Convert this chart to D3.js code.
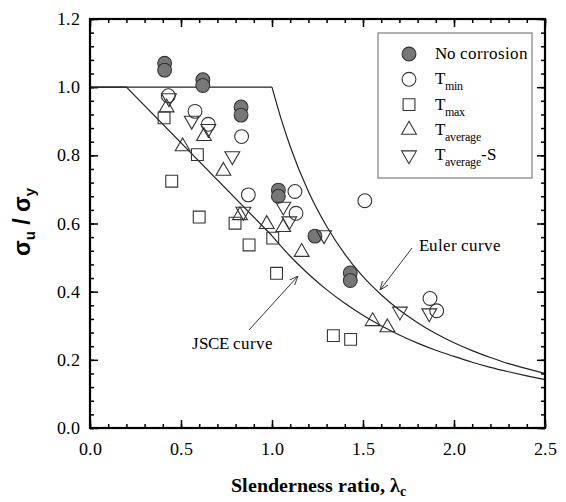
<!DOCTYPE html>
<html><head><meta charset="utf-8">
<script src="https://cdn.jsdelivr.net/npm/d3@7"></script>
<style>
@font-face { font-family: "RefSerif"; src: local("Liberation Serif"), local("LiberationSerif"), local("Liberation Serif Regular"), local("LiberationSerif-Regular"); font-weight: normal; }
@font-face { font-family: "RefSerif"; src: local("Liberation Serif Bold"), local("LiberationSerif-Bold"); font-weight: bold; }
</style>
</head>
<body style="margin:0">
<script>
// ---- data ----
var noCorrosion = [[0.41,1.07],[0.41,1.05],[0.62,1.022],[0.62,1.005],[0.83,0.942],[0.83,0.918],
                   [1.035,0.698],[1.035,0.68],[1.236,0.563],[1.43,0.455],[1.43,0.433]];
var tMin = [[0.43,0.975],[0.577,0.929],[0.65,0.891],[0.833,0.855],[0.87,0.684],[1.126,0.694],
            [1.132,0.63],[1.51,0.667],[1.868,0.38],[1.905,0.344]];
var tMax = [[0.407,0.91],[0.449,0.724],[0.59,0.802],[0.60,0.619],[0.797,0.601],[0.874,0.537],
            [1.004,0.557],[1.025,0.454],[1.337,0.271],[1.432,0.26]];
var tAverage = [[0.421,0.94],[0.509,0.826],[0.626,0.856],[0.733,0.754],[0.824,0.624],[0.971,0.598],
                [1.062,0.589],[1.163,0.516],[1.553,0.313],[1.634,0.295]];
var tAverageS = [[0.434,0.968],[0.559,0.902],[0.65,0.878],[0.782,0.798],[0.843,0.635],[1.062,0.65],
                 [1.095,0.607],[1.286,0.566],[1.703,0.342],[1.864,0.337]];

// design curves, values
var jsceStraight = [[0.0,1.0],[0.2,1.0],[1.0,0.564]];
var jsceCurve = [[1.0,0.564],[1.1,0.504],[1.2,0.452],[1.3,0.406],[1.4,0.366],[1.5,0.331],[1.6,0.300],
                 [1.7,0.273],[1.8,0.249],[1.9,0.228],[2.0,0.210],[2.1,0.193],[2.2,0.178],[2.3,0.165],
                 [2.4,0.153],[2.5,0.142]];
var eulerStraight = [[0.0,1.0],[1.0,1.0]];
var eulerCurve = [[1.0,1.0],[1.05,0.907],[1.1,0.826],[1.2,0.694],[1.3,0.592],[1.4,0.510],[1.5,0.444],
                  [1.6,0.391],[1.7,0.346],[1.8,0.309],[1.9,0.277],[2.0,0.250],[2.1,0.227],[2.2,0.207],
                  [2.3,0.189],[2.4,0.174],[2.5,0.160]];

var xTicks = [0.0, 0.5, 1.0, 1.5, 2.0, 2.5];
var yTicks = [0.0, 0.2, 0.4, 0.6, 0.8, 1.0, 1.2];
var legendLabels = [["No corrosion", ""], ["T", "min"], ["T", "max"], ["T", "average"], ["T", "average", "-S"]];

var SERIF = "RefSerif";
var SANS = "'Liberation Sans'";

// ---- layout ----
var width = 566, height = 502;
var margin = { left: 90, top: 19, right: 21, bottom: 74 };
var w = width - margin.left - margin.right,
    h = height - margin.top - margin.bottom;

var svg = d3.select("body").append("svg")
    .attr("width", width)
    .attr("height", height)
    .style("display", "block");

var g = svg.append("g").attr("transform", `translate(${margin.left},${margin.top})`);

var x = d3.scaleLinear().domain([0, 2.5]).range([0, w]);
var y = d3.scaleLinear().domain([0, 1.2]).range([h, 0]);

var minorX = d3.range(0, 2.5001, 0.1);
var minorY = d3.range(0, 1.2001, 0.04);

// plain text helper so every label carries its own font
function label(parent, txt, px, py, size, family) {
    return parent.append("text").attr("x", px).attr("y", py)
        .style("font-family", family).style("font-size", size + "px").text(txt);
}

// axes: ticks pointing in on all four sides, labels drawn from the scales
function tickAxis(axis, tx, ty) {
    var a = g.append("g").attr("transform", `translate(${tx},${ty})`).call(axis.tickFormat(""));
    a.select(".domain").remove();
    a.selectAll("text").remove();
    a.attr("font-family", null).attr("font-size", null);
    a.selectAll("line").attr("stroke", "#000").attr("stroke-width", 1.5);
}
tickAxis(d3.axisBottom(x).tickValues(minorX).tickSize(-4), 0, h);
tickAxis(d3.axisBottom(x).tickValues(xTicks).tickSize(-8), 0, h);
tickAxis(d3.axisTop(x).tickValues(minorX).tickSize(-4), 0, 0);
tickAxis(d3.axisTop(x).tickValues(xTicks).tickSize(-8), 0, 0);
tickAxis(d3.axisLeft(y).tickValues(minorY).tickSize(-4), 0, 0);
tickAxis(d3.axisLeft(y).tickValues(yTicks).tickSize(-8), 0, 0);
tickAxis(d3.axisRight(y).tickValues(minorY).tickSize(-4), w, 0);
tickAxis(d3.axisRight(y).tickValues(yTicks).tickSize(-8), w, 0);

xTicks.forEach(function(t) {
    label(g, d3.format(".1f")(t), x(t), h + 27, 18, SERIF).attr("text-anchor", "middle");
});
yTicks.forEach(function(t) {
    label(g, d3.format(".1f")(t), -10, y(t) + 6, 18, SERIF).attr("text-anchor", "end");
});

// curves
var straight = d3.line().x(d => x(d[0])).y(d => y(d[1]));
var smooth = d3.line().x(d => x(d[0])).y(d => y(d[1])).curve(d3.curveMonotoneX);
[jsceStraight, eulerStraight].forEach(function(d) {
    g.append("path").attr("d", straight(d)).attr("fill", "none").attr("stroke", "#222").attr("stroke-width", 1.2);
});
[jsceCurve, eulerCurve].forEach(function(d) {
    g.append("path").attr("d", smooth(d)).attr("fill", "none").attr("stroke", "#222").attr("stroke-width", 1.2);
});

// markers
var series = [
    { data: noCorrosion, type: d3.symbolCircle, size: 150, fill: "#777", rot: 0 },
    { data: tMin, type: d3.symbolCircle, size: 150, fill: "#fff", rot: 0 },
    { data: tMax, type: d3.symbolSquare, size: 140, fill: "#fff", rot: 0 },
    { data: tAverage, type: d3.symbolTriangle, size: 95, fill: "#fff", rot: 0 },
    { data: tAverageS, type: d3.symbolTriangle, size: 95, fill: "#fff", rot: 180 }
];
series.forEach(function(s) {
    g.selectAll(null)
        .data(s.data)
        .enter().append("path")
        .attr("d", d3.symbol().type(s.type).size(s.size))
        .attr("transform", d => `translate(${x(d[0])},${y(d[1])}) rotate(${s.rot})`)
        .attr("fill", s.fill)
        .attr("fill-opacity", s.fill === "#fff" ? 0 : 1)
        .attr("stroke", "#333")
        .attr("stroke-width", 1.1);
});

// frame
g.append("rect").attr("width", w).attr("height", h)
    .attr("fill", "none").attr("stroke", "#000").attr("stroke-width", 2.2);

// annotations
var defs = svg.append("defs");
defs.append("marker").attr("id", "arr").attr("viewBox", "0 0 10 10")
    .attr("refX", 10).attr("refY", 5).attr("markerWidth", 9).attr("markerHeight", 9)
    .attr("orient", "auto").attr("markerUnits", "userSpaceOnUse")
    .append("path").attr("d", "M0,1 L10,5 L0,9").attr("fill", "none").attr("stroke", "#333").attr("stroke-width", 1);

svg.append("line").attr("x1", 249).attr("y1", 330).attr("x2", 298).attr("y2", 276)
    .attr("stroke", "#333").attr("stroke-width", 1).attr("marker-end", "url(#arr)");
svg.append("line").attr("x1", 412).attr("y1", 248).attr("x2", 380).attr("y2", 290)
    .attr("stroke", "#333").attr("stroke-width", 1).attr("marker-end", "url(#arr)");

label(svg, "JSCE curve", 192, 349, 17, SERIF);
label(svg, "Euler curve", 419, 251, 17, SERIF);

// legend
var lg = svg.append("g").attr("transform", "translate(378,33)");
lg.append("rect").attr("width", 154).attr("height", 145)
    .attr("fill", "#fff").attr("stroke", "#888").attr("stroke-width", 1.3);
legendLabels.forEach(function(lab, i) {
    var s = series[i];
    var cy = 21 + i * 25.3;
    lg.append("path")
        .attr("d", d3.symbol().type(s.type).size(s.size))
        .attr("transform", `translate(31,${cy}) rotate(${s.rot})`)
        .attr("fill", s.fill)
        .attr("stroke", "#333").attr("stroke-width", 1.1);
    var t = label(lg, null, 57, cy + 5, 17, SERIF);
    t.append("tspan").text(lab[0]);
    if (lab[1]) t.append("tspan").attr("dy", 6).style("font-size", "12px").text(lab[1]);
    if (lab[2]) t.append("tspan").attr("dy", -6).text(lab[2]);
});

// axis titles
var xt = label(svg, null, 318, 492, 20, SERIF).attr("text-anchor", "middle").style("font-weight", "bold");
xt.append("tspan").text("Slenderness ratio, λ");
xt.append("tspan").attr("dy", 4).style("font-size", "14px").text("c");

var yt = label(svg, null, 0, 0, 23, SANS).attr("transform", "translate(30,222) rotate(-90)")
    .attr("text-anchor", "middle").style("font-weight", "bold");
yt.append("tspan").text("σ");
yt.append("tspan").attr("dy", 5).style("font-size", "15px").text("u");
yt.append("tspan").attr("dy", -5).text(" / σ");
yt.append("tspan").attr("dy", 5).style("font-size", "15px").text("y");
</script>
</body>
</html>
